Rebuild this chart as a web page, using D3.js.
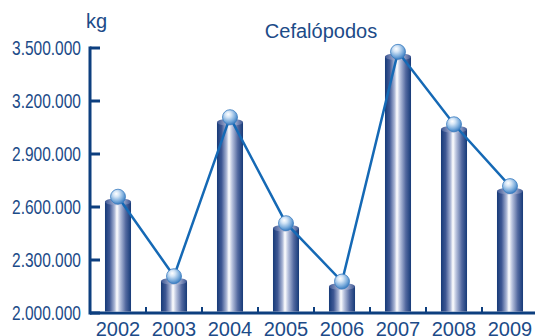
<!DOCTYPE html>
<html><head><meta charset="utf-8">
<script src="https://cdn.jsdelivr.net/npm/d3@7"></script>
<style>body{margin:0;background:#fff}svg{display:block}text{font-family:"Liberation Sans",Arial,sans-serif}</style>
</head><body>
<svg id="c" width="535" height="336"></svg>
<script>
const years = ["2002","2003","2004","2005","2006","2007","2008","2009"];
const values = [2630000,2180000,3080000,2480000,2150000,3450000,3040000,2690000];
const yTicks = [2000000,2300000,2600000,2900000,3200000,3500000];
const title = "Cefalópodos";
const unit = "kg";

const svg = d3.select("#c");
const navy = "#0d3f7f", txt = "#1c4b88", lineC = "#1569b5";
const x = d3.scaleBand().domain(years).range([90, 538]).padding(0);
const y = d3.scaleLinear().domain([2000000, 3500000]).range([313, 48]);
const fmt = v => d3.format(",")(v).replace(/,/g, ".");

const defs = svg.append("defs");
const g1 = defs.append("linearGradient").attr("id","bar").attr("x1","0").attr("x2","1").attr("y1","0").attr("y2","0");
[[0,"#163a78"],[0.18,"#3f5894"],[0.36,"#a7b3d3"],[0.46,"#ffffff"],[0.58,"#b9c3de"],[0.8,"#52689f"],[1,"#163a78"]]
  .forEach(([o,c]) => g1.append("stop").attr("offset",o).attr("stop-color",c));
const g2 = defs.append("linearGradient").attr("id","cap").attr("x1","0").attr("x2","1").attr("y1","0").attr("y2","0");
[[0,"#3b5592"],[0.3,"#8d9bc3"],[0.5,"#c9d0e4"],[0.75,"#8d9bc3"],[1,"#3b5592"]]
  .forEach(([o,c]) => g2.append("stop").attr("offset",o).attr("stop-color",c));
const g3 = defs.append("radialGradient").attr("id","ball").attr("cx","0.4").attr("cy","0.35").attr("r","0.65").attr("fx","0.38").attr("fy","0.3");
[[0,"#ffffff"],[0.3,"#d4e5f6"],[0.7,"#7eaedd"],[1,"#3d7fc2"]]
  .forEach(([o,c]) => g3.append("stop").attr("offset",o).attr("stop-color",c));

// axes
svg.append("line").attr("x1",90).attr("x2",535).attr("y1",y(2000000)).attr("y2",y(2000000))
  .attr("stroke",navy).attr("stroke-width",3);
svg.append("line").attr("x1",90).attr("x2",90).attr("y1",y(3500000)-1.5).attr("y2",y(2000000)+1.5)
  .attr("stroke",navy).attr("stroke-width",3);
svg.selectAll(".yt").data(yTicks).join("line").attr("x1",90).attr("x2",100)
  .attr("y1",d=>y(d)).attr("y2",d=>y(d)).attr("stroke",navy).attr("stroke-width",3);
svg.selectAll(".yl").data(yTicks).join("text").attr("x",81).attr("y",d=>y(d)+6.5)
  .attr("text-anchor","end").attr("font-size",20).attr("fill",txt)
  .attr("textLength",69).attr("lengthAdjust","spacingAndGlyphs").text(fmt);
svg.selectAll(".xt").data(years.slice(1)).join("line").attr("x1",d=>x(d)).attr("x2",d=>x(d))
  .attr("y1",y(2000000)).attr("y2",y(2000000)-6).attr("stroke",navy).attr("stroke-width",2);
svg.selectAll(".xl").data(years).join("text").attr("x",d=>x(d)+x.bandwidth()/2).attr("y",336)
  .attr("text-anchor","middle").attr("font-size",20).attr("fill",txt).text(d=>d);

// bars
const bw = x.bandwidth()*0.465;
const data = years.map((yr,i)=>({yr, v: values[i]}));
const bars = svg.append("g").selectAll("g").data(data).join("g");
bars.append("rect").attr("x",d=>x(d.yr)+x.bandwidth()/2-bw/2).attr("width",bw)
  .attr("y",d=>y(d.v)).attr("height",d=>y(2000000)-y(d.v)-1.5).attr("fill","url(#bar)");
bars.append("ellipse").attr("cx",d=>x(d.yr)+x.bandwidth()/2).attr("cy",d=>y(d.v))
  .attr("rx",bw/2).attr("ry",3.5).attr("fill","url(#cap)");

// line
const cx = d=>x(d.yr)+x.bandwidth()/2, cy = d=>y(d.v)-5;
svg.append("path").datum(data).attr("d",d3.line().x(cx).y(cy)).attr("fill","none")
  .attr("stroke",lineC).attr("stroke-width",2.5);
svg.selectAll(".ball").data(data).join("circle").attr("cx",cx).attr("cy",cy).attr("r",7.5)
  .attr("fill","url(#ball)").attr("stroke","#3a7cc0").attr("stroke-width",0.8);

// titles
svg.append("text").attr("x",86).attr("y",28).attr("font-size",20).attr("fill",txt).text(unit);
svg.append("text").attr("x",321).attr("y",38).attr("text-anchor","middle").attr("font-size",20).attr("fill",txt).text(title);
</script>
</body></html>
